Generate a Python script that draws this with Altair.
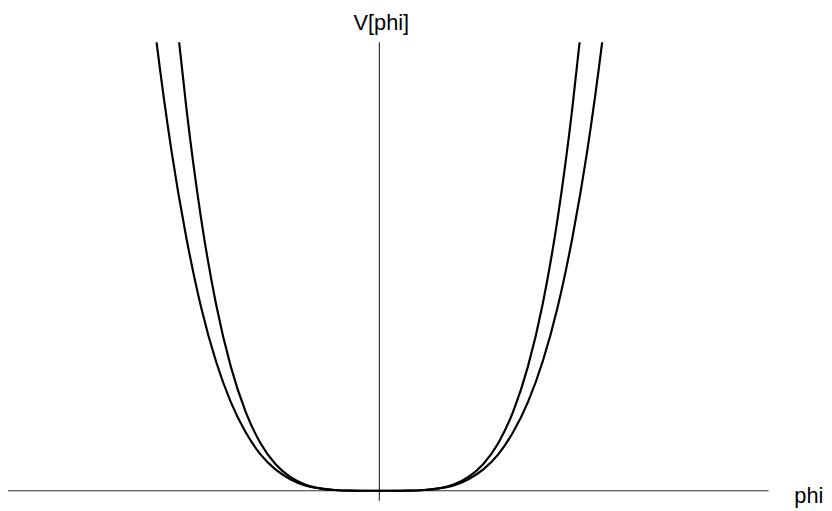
import altair as alt
import pandas as pd

# Outer (wider) curve: phi values and V values
outer_phi = [-1.55, -1.5, -1.4, -1.3, -1.2, -1.1, -1.0, -0.9, -0.8, -0.7, -0.6, -0.5, -0.4, -0.3, -0.2, -0.1, 0.0,
             0.1, 0.2, 0.3, 0.4, 0.5, 0.6, 0.7, 0.8, 0.9, 1.0, 1.1, 1.2, 1.3, 1.4, 1.5, 1.55]
outer_v = [5.77, 5.06, 3.84, 2.86, 2.07, 1.46, 1.0, 0.66, 0.41, 0.24, 0.13, 0.06, 0.026, 0.008, 0.002, 0.0, 0.0,
           0.0, 0.002, 0.008, 0.026, 0.06, 0.13, 0.24, 0.41, 0.66, 1.0, 1.46, 2.07, 2.86, 3.84, 5.06, 5.77]

# Inner (steeper) curve
inner_phi = [-1.4, -1.35, -1.3, -1.2, -1.1, -1.0, -0.9, -0.8, -0.7, -0.6, -0.5, -0.4, -0.3, -0.2, -0.1, 0.0,
             0.1, 0.2, 0.3, 0.4, 0.5, 0.6, 0.7, 0.8, 0.9, 1.0, 1.1, 1.2, 1.3, 1.35, 1.4]
inner_v = [5.95, 5.09, 4.33, 3.07, 2.11, 1.4, 0.89, 0.536, 0.302, 0.156, 0.071, 0.027, 0.008, 0.001, 0.0, 0.0,
           0.0, 0.001, 0.008, 0.027, 0.071, 0.156, 0.302, 0.536, 0.89, 1.4, 2.11, 3.07, 4.33, 5.09, 5.95]

x_label = "phi"
y_label = "V[phi]"

X_DOM = [-2.5, 2.9933]
Y_DOM = [-0.201, 5.06]
AXIS_X_END = 2.62
AXIS_Y_BOTTOM = -0.112

df = pd.concat([
    pd.DataFrame({"phi": outer_phi, "V": outer_v, "curve": "outer"}),
    pd.DataFrame({"phi": inner_phi, "V": inner_v, "curve": "inner"}),
])

xs = alt.Scale(domain=X_DOM, nice=False, zero=False)
ys = alt.Scale(domain=Y_DOM, nice=False, zero=False)

curves = alt.Chart(df).mark_line(color="black", strokeWidth=2.2, clip=True, interpolate="monotone").encode(
    x=alt.X("phi:Q", scale=xs, axis=None),
    y=alt.Y("V:Q", scale=ys, axis=None),
    detail="curve:N",
)

haxis = alt.Chart(pd.DataFrame({"x1": [X_DOM[0]], "x2": [AXIS_X_END], "y": [0.0]})).mark_rule(
    color="#333333", strokeWidth=1.2).encode(
    x=alt.X("x1:Q", scale=xs, axis=None), x2="x2:Q", y=alt.Y("y:Q", scale=ys, axis=None))

vaxis = alt.Chart(pd.DataFrame({"x": [0.0], "y1": [AXIS_Y_BOTTOM], "y2": [Y_DOM[1]]})).mark_rule(
    color="#333333", strokeWidth=1.2).encode(
    x=alt.X("x:Q", scale=xs, axis=None), y=alt.Y("y1:Q", scale=ys, axis=None), y2="y2:Q")

ylab = alt.Chart(pd.DataFrame({"t": [y_label]})).mark_text(
    font="Liberation Sans", fontSize=22, color="black", align="center", baseline="middle").encode(
    text="t:N", x=alt.value(377), y=alt.value(-19))

xlab = alt.Chart(pd.DataFrame({"t": [x_label]})).mark_text(
    font="Liberation Sans", fontSize=22, color="black", align="left", baseline="middle").encode(
    text="t:N", x=alt.value(794), y=alt.value(458))

chart = alt.layer(haxis, vaxis, curves, ylab, xlab).properties(
    width=824, height=471,
    background="white",
    autosize=alt.AutoSizeParams(type="none"),
    padding={"left": 0, "top": 32, "right": 0, "bottom": 0},
).configure_view(strokeWidth=0, stroke=None)

chart.save("out.html", embed_options={"renderer": "svg", "actions": False})
